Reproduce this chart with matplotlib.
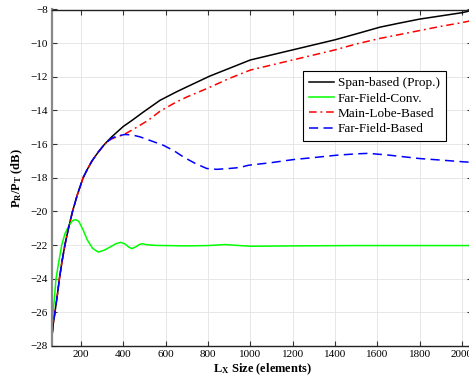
import numpy as np
import matplotlib.pyplot as plt

plt.rcParams['font.family'] = ['Liberation Serif', 'DejaVu Serif']
plt.rcParams['mathtext.fontset'] = 'custom'
plt.rcParams['mathtext.rm'] = 'Liberation Serif'
plt.rcParams['mathtext.bf'] = 'Liberation Serif:bold'

# Span-based (Prop.)
x_span = [64, 70, 77, 88, 98, 110, 124, 140, 160, 183, 210, 230, 252, 280, 312, 345, 376, 400,
          440, 494, 573, 650, 700, 808, 900, 1000, 1100, 1200, 1300, 1400, 1500, 1612, 1700,
          1800, 1900, 2000, 2048]
y_span = [-27.27, -26.6, -26.0, -25.0, -24.0, -23.0, -22.0, -21.05, -20.0, -19.0, -18.0, -17.5,
          -17.0, -16.5, -16.0, -15.57, -15.22, -14.95, -14.6, -14.1, -13.4, -12.9, -12.6, -11.96,
          -11.5, -11.0, -10.7, -10.4, -10.1, -9.8, -9.45, -9.05, -8.82, -8.57, -8.38, -8.19, -8.05]

# Far-Field-Conv.
x_conv = [64, 72, 82, 95, 109, 125, 145, 160, 175, 190, 210, 230, 255, 282, 310, 340, 365, 388,
          410, 425, 440, 460, 475, 490, 510, 550, 600, 700, 800, 880, 950, 1000, 1200, 1500, 2048]
y_conv = [-26.78, -25.5, -24.0, -23.0, -22.0, -21.3, -20.8, -20.55, -20.49, -20.6, -21.1, -21.7,
          -22.2, -22.42, -22.3, -22.1, -21.92, -21.84, -21.95, -22.12, -22.21, -22.1, -21.97,
          -21.92, -21.98, -22.02, -22.03, -22.05, -22.03, -21.97, -22.03, -22.07, -22.05,
          -22.03, -22.03]

# Main-Lobe-Based
x_lobe = [64, 70, 77, 88, 98, 110, 124, 140, 160, 183, 210, 230, 252, 280, 312, 340, 368, 400,
          450, 518, 573, 650, 700, 800, 900, 1000, 1100, 1200, 1300, 1400, 1500, 1612, 1700,
          1800, 1900, 2000, 2048]
y_lobe = [-27.27, -26.6, -26.0, -25.0, -24.0, -23.0, -22.0, -21.05, -20.0, -19.0, -18.0, -17.5,
          -17.0, -16.5, -16.0, -15.72, -15.57, -15.45, -15.1, -14.58, -14.05, -13.5, -13.2,
          -12.67, -12.1, -11.6, -11.3, -11.0, -10.7, -10.4, -10.05, -9.72, -9.5, -9.25, -9.0,
          -8.78, -8.65]

# Far-Field-Based
x_ff = [64, 70, 77, 88, 98, 110, 124, 140, 160, 183, 210, 230, 252, 280, 312, 345, 370, 408,
        440, 479, 530, 589, 640, 683, 740, 794, 841, 900, 951, 990, 1100, 1203, 1300, 1408,
        1500, 1557, 1650, 1801, 1900, 2014, 2048]
y_ff = [-27.27, -26.6, -26.0, -25.0, -24.0, -23.0, -22.0, -21.05, -20.0, -19.0, -18.0, -17.5,
        -17.0, -16.5, -16.0, -15.65, -15.52, -15.43, -15.45, -15.57, -15.8, -16.07, -16.4,
        -16.76, -17.15, -17.45, -17.5, -17.45, -17.39, -17.26, -17.1, -16.92, -16.8, -16.66,
        -16.58, -16.55, -16.65, -16.86, -16.95, -17.06, -17.08]

x_ticks = list(range(200, 2001, 200))
y_ticks = list(range(-28, -7, 2))

fig = plt.figure(figsize=(4.69, 3.81), dpi=100)
ax = fig.add_axes([52.2 / 469, 1 - 346 / 381, 420 / 469, 336.5 / 381])

ax.plot(x_span, y_span, color='black', lw=1.1, label='Span-based (Prop.)')
ax.plot(x_conv, y_conv, color='#00ff00', lw=1.1, label='Far-Field-Conv.')
ax.plot(x_lobe, y_lobe, color='red', lw=1.1, dashes=(5, 2.5, 1.2, 2.5), label='Main-Lobe-Based')
ax.plot(x_ff, y_ff, color='blue', lw=1.1, dashes=(6, 3.5), label='Far-Field-Based')

ax.set_xlim(64, 2048)
ax.set_ylim(-28, -8)
ax.set_xticks(x_ticks)
ax.set_yticks(y_ticks)
ax.tick_params(direction='in', length=3.5, width=0.8, labelsize=8, pad=3,
               top=True, right=True, colors='#333333', labelcolor='black')
ax.grid(True, color='#e3e3e3', lw=0.6)
ax.set_axisbelow(True)

for s in ['top', 'bottom', 'right']:
    ax.spines[s].set_color('#222222')
    ax.spines[s].set_linewidth(1.0)
ax.spines['left'].set_color('#888888')
ax.spines['left'].set_linewidth(1.6)

ax.set_xlabel(r'$\mathbf{L_X}$ Size (elements)', fontsize=9, fontweight='bold', labelpad=2)
ax.set_ylabel(r'$\mathbf{P_R/P_T}$ (dB)', fontsize=9, fontweight='bold', labelpad=4)

leg = ax.legend(loc='upper right', bbox_to_anchor=(0.937, 0.817), borderaxespad=0,
                fancybox=False, edgecolor='black', framealpha=1, fontsize=9.5,
                handlelength=1.9, handletextpad=0.3, labelspacing=0.24, borderpad=0.45)
leg.get_frame().set_linewidth(0.8)

fig.savefig('out.png', dpi=100)
